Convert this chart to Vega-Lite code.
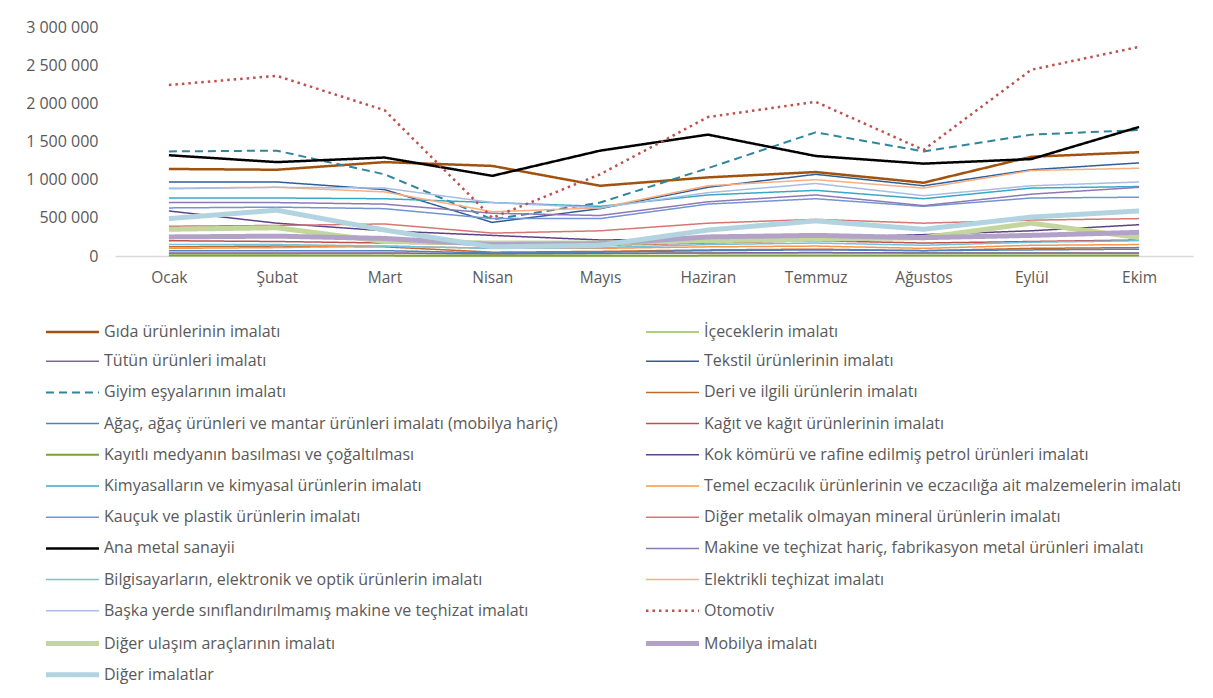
{
  "$schema": "https://vega.github.io/schema/vega-lite/v6.json",
  "width": 1078,
  "height": 229,
  "autosize": {"type": "none"},
  "padding": {"left": 115, "top": 27, "right": 20, "bottom": 442},
  "background": "#ffffff",
  "config": {
    "view": {"stroke": null},
    "font": "Open Sans",
    "axis": {"labelFont": "Open Sans", "labelColor": "#595959", "labelFontSize": 15.5, "grid": false, "ticks": false, "title": null},
    "legend": {"labelFont": "Open Sans", "labelColor": "#595959", "labelFontSize": 16}
  },
  "data": {"values": [
    {"seri":"Gıda ürünlerinin imalatı","ay":"Ocak","deger":1140000},{"seri":"Gıda ürünlerinin imalatı","ay":"Şubat","deger":1130000},{"seri":"Gıda ürünlerinin imalatı","ay":"Mart","deger":1230000},{"seri":"Gıda ürünlerinin imalatı","ay":"Nisan","deger":1180000},{"seri":"Gıda ürünlerinin imalatı","ay":"Mayıs","deger":920000},{"seri":"Gıda ürünlerinin imalatı","ay":"Haziran","deger":1030000},{"seri":"Gıda ürünlerinin imalatı","ay":"Temmuz","deger":1100000},{"seri":"Gıda ürünlerinin imalatı","ay":"Ağustos","deger":960000},{"seri":"Gıda ürünlerinin imalatı","ay":"Eylül","deger":1300000},{"seri":"Gıda ürünlerinin imalatı","ay":"Ekim","deger":1360000},
    {"seri":"İçeceklerin imalatı","ay":"Ocak","deger":30000},{"seri":"İçeceklerin imalatı","ay":"Şubat","deger":30000},{"seri":"İçeceklerin imalatı","ay":"Mart","deger":35000},{"seri":"İçeceklerin imalatı","ay":"Nisan","deger":25000},{"seri":"İçeceklerin imalatı","ay":"Mayıs","deger":30000},{"seri":"İçeceklerin imalatı","ay":"Haziran","deger":40000},{"seri":"İçeceklerin imalatı","ay":"Temmuz","deger":40000},{"seri":"İçeceklerin imalatı","ay":"Ağustos","deger":40000},{"seri":"İçeceklerin imalatı","ay":"Eylül","deger":40000},{"seri":"İçeceklerin imalatı","ay":"Ekim","deger":35000},
    {"seri":"Tütün ürünleri imalatı","ay":"Ocak","deger":40000},{"seri":"Tütün ürünleri imalatı","ay":"Şubat","deger":40000},{"seri":"Tütün ürünleri imalatı","ay":"Mart","deger":40000},{"seri":"Tütün ürünleri imalatı","ay":"Nisan","deger":30000},{"seri":"Tütün ürünleri imalatı","ay":"Mayıs","deger":35000},{"seri":"Tütün ürünleri imalatı","ay":"Haziran","deger":40000},{"seri":"Tütün ürünleri imalatı","ay":"Temmuz","deger":45000},{"seri":"Tütün ürünleri imalatı","ay":"Ağustos","deger":40000},{"seri":"Tütün ürünleri imalatı","ay":"Eylül","deger":40000},{"seri":"Tütün ürünleri imalatı","ay":"Ekim","deger":40000},
    {"seri":"Tekstil ürünlerinin imalatı","ay":"Ocak","deger":970000},{"seri":"Tekstil ürünlerinin imalatı","ay":"Şubat","deger":970000},{"seri":"Tekstil ürünlerinin imalatı","ay":"Mart","deger":870000},{"seri":"Tekstil ürünlerinin imalatı","ay":"Nisan","deger":440000},{"seri":"Tekstil ürünlerinin imalatı","ay":"Mayıs","deger":620000},{"seri":"Tekstil ürünlerinin imalatı","ay":"Haziran","deger":900000},{"seri":"Tekstil ürünlerinin imalatı","ay":"Temmuz","deger":1070000},{"seri":"Tekstil ürünlerinin imalatı","ay":"Ağustos","deger":920000},{"seri":"Tekstil ürünlerinin imalatı","ay":"Eylül","deger":1130000},{"seri":"Tekstil ürünlerinin imalatı","ay":"Ekim","deger":1220000},
    {"seri":"Giyim eşyalarının imalatı","ay":"Ocak","deger":1370000},{"seri":"Giyim eşyalarının imalatı","ay":"Şubat","deger":1380000},{"seri":"Giyim eşyalarının imalatı","ay":"Mart","deger":1070000},{"seri":"Giyim eşyalarının imalatı","ay":"Nisan","deger":480000},{"seri":"Giyim eşyalarının imalatı","ay":"Mayıs","deger":700000},{"seri":"Giyim eşyalarının imalatı","ay":"Haziran","deger":1150000},{"seri":"Giyim eşyalarının imalatı","ay":"Temmuz","deger":1620000},{"seri":"Giyim eşyalarının imalatı","ay":"Ağustos","deger":1370000},{"seri":"Giyim eşyalarının imalatı","ay":"Eylül","deger":1590000},{"seri":"Giyim eşyalarının imalatı","ay":"Ekim","deger":1650000},
    {"seri":"Deri ve ilgili  ürünlerin imalatı","ay":"Ocak","deger":120000},{"seri":"Deri ve ilgili  ürünlerin imalatı","ay":"Şubat","deger":130000},{"seri":"Deri ve ilgili  ürünlerin imalatı","ay":"Mart","deger":120000},{"seri":"Deri ve ilgili  ürünlerin imalatı","ay":"Nisan","deger":50000},{"seri":"Deri ve ilgili  ürünlerin imalatı","ay":"Mayıs","deger":60000},{"seri":"Deri ve ilgili  ürünlerin imalatı","ay":"Haziran","deger":80000},{"seri":"Deri ve ilgili  ürünlerin imalatı","ay":"Temmuz","deger":90000},{"seri":"Deri ve ilgili  ürünlerin imalatı","ay":"Ağustos","deger":70000},{"seri":"Deri ve ilgili  ürünlerin imalatı","ay":"Eylül","deger":100000},{"seri":"Deri ve ilgili  ürünlerin imalatı","ay":"Ekim","deger":110000},
    {"seri":"Ağaç, ağaç ürünleri ve mantar ürünleri imalatı (mobilya hariç)","ay":"Ocak","deger":70000},{"seri":"Ağaç, ağaç ürünleri ve mantar ürünleri imalatı (mobilya hariç)","ay":"Şubat","deger":70000},{"seri":"Ağaç, ağaç ürünleri ve mantar ürünleri imalatı (mobilya hariç)","ay":"Mart","deger":70000},{"seri":"Ağaç, ağaç ürünleri ve mantar ürünleri imalatı (mobilya hariç)","ay":"Nisan","deger":40000},{"seri":"Ağaç, ağaç ürünleri ve mantar ürünleri imalatı (mobilya hariç)","ay":"Mayıs","deger":50000},{"seri":"Ağaç, ağaç ürünleri ve mantar ürünleri imalatı (mobilya hariç)","ay":"Haziran","deger":70000},{"seri":"Ağaç, ağaç ürünleri ve mantar ürünleri imalatı (mobilya hariç)","ay":"Temmuz","deger":80000},{"seri":"Ağaç, ağaç ürünleri ve mantar ürünleri imalatı (mobilya hariç)","ay":"Ağustos","deger":70000},{"seri":"Ağaç, ağaç ürünleri ve mantar ürünleri imalatı (mobilya hariç)","ay":"Eylül","deger":80000},{"seri":"Ağaç, ağaç ürünleri ve mantar ürünleri imalatı (mobilya hariç)","ay":"Ekim","deger":90000},
    {"seri":"Kağıt ve kağıt ürünlerinin imalatı","ay":"Ocak","deger":200000},{"seri":"Kağıt ve kağıt ürünlerinin imalatı","ay":"Şubat","deger":190000},{"seri":"Kağıt ve kağıt ürünlerinin imalatı","ay":"Mart","deger":170000},{"seri":"Kağıt ve kağıt ürünlerinin imalatı","ay":"Nisan","deger":150000},{"seri":"Kağıt ve kağıt ürünlerinin imalatı","ay":"Mayıs","deger":140000},{"seri":"Kağıt ve kağıt ürünlerinin imalatı","ay":"Haziran","deger":170000},{"seri":"Kağıt ve kağıt ürünlerinin imalatı","ay":"Temmuz","deger":200000},{"seri":"Kağıt ve kağıt ürünlerinin imalatı","ay":"Ağustos","deger":170000},{"seri":"Kağıt ve kağıt ürünlerinin imalatı","ay":"Eylül","deger":190000},{"seri":"Kağıt ve kağıt ürünlerinin imalatı","ay":"Ekim","deger":210000},
    {"seri":"Kayıtlı medyanın basılması ve çoğaltılması","ay":"Ocak","deger":5000},{"seri":"Kayıtlı medyanın basılması ve çoğaltılması","ay":"Şubat","deger":5000},{"seri":"Kayıtlı medyanın basılması ve çoğaltılması","ay":"Mart","deger":5000},{"seri":"Kayıtlı medyanın basılması ve çoğaltılması","ay":"Nisan","deger":4000},{"seri":"Kayıtlı medyanın basılması ve çoğaltılması","ay":"Mayıs","deger":4000},{"seri":"Kayıtlı medyanın basılması ve çoğaltılması","ay":"Haziran","deger":5000},{"seri":"Kayıtlı medyanın basılması ve çoğaltılması","ay":"Temmuz","deger":5000},{"seri":"Kayıtlı medyanın basılması ve çoğaltılması","ay":"Ağustos","deger":5000},{"seri":"Kayıtlı medyanın basılması ve çoğaltılması","ay":"Eylül","deger":5000},{"seri":"Kayıtlı medyanın basılması ve çoğaltılması","ay":"Ekim","deger":5000},
    {"seri":"Kok kömürü ve rafine edilmiş petrol ürünleri imalatı","ay":"Ocak","deger":590000},{"seri":"Kok kömürü ve rafine edilmiş petrol ürünleri imalatı","ay":"Şubat","deger":430000},{"seri":"Kok kömürü ve rafine edilmiş petrol ürünleri imalatı","ay":"Mart","deger":330000},{"seri":"Kok kömürü ve rafine edilmiş petrol ürünleri imalatı","ay":"Nisan","deger":270000},{"seri":"Kok kömürü ve rafine edilmiş petrol ürünleri imalatı","ay":"Mayıs","deger":210000},{"seri":"Kok kömürü ve rafine edilmiş petrol ürünleri imalatı","ay":"Haziran","deger":220000},{"seri":"Kok kömürü ve rafine edilmiş petrol ürünleri imalatı","ay":"Temmuz","deger":240000},{"seri":"Kok kömürü ve rafine edilmiş petrol ürünleri imalatı","ay":"Ağustos","deger":280000},{"seri":"Kok kömürü ve rafine edilmiş petrol ürünleri imalatı","ay":"Eylül","deger":330000},{"seri":"Kok kömürü ve rafine edilmiş petrol ürünleri imalatı","ay":"Ekim","deger":410000},
    {"seri":"Kimyasalların ve kimyasal ürünlerin imalatı","ay":"Ocak","deger":760000},{"seri":"Kimyasalların ve kimyasal ürünlerin imalatı","ay":"Şubat","deger":760000},{"seri":"Kimyasalların ve kimyasal ürünlerin imalatı","ay":"Mart","deger":750000},{"seri":"Kimyasalların ve kimyasal ürünlerin imalatı","ay":"Nisan","deger":700000},{"seri":"Kimyasalların ve kimyasal ürünlerin imalatı","ay":"Mayıs","deger":650000},{"seri":"Kimyasalların ve kimyasal ürünlerin imalatı","ay":"Haziran","deger":800000},{"seri":"Kimyasalların ve kimyasal ürünlerin imalatı","ay":"Temmuz","deger":860000},{"seri":"Kimyasalların ve kimyasal ürünlerin imalatı","ay":"Ağustos","deger":750000},{"seri":"Kimyasalların ve kimyasal ürünlerin imalatı","ay":"Eylül","deger":890000},{"seri":"Kimyasalların ve kimyasal ürünlerin imalatı","ay":"Ekim","deger":910000},
    {"seri":"Temel eczacılık ürünlerinin ve eczacılığa ait malzemelerin imalatı","ay":"Ocak","deger":100000},{"seri":"Temel eczacılık ürünlerinin ve eczacılığa ait malzemelerin imalatı","ay":"Şubat","deger":110000},{"seri":"Temel eczacılık ürünlerinin ve eczacılığa ait malzemelerin imalatı","ay":"Mart","deger":130000},{"seri":"Temel eczacılık ürünlerinin ve eczacılığa ait malzemelerin imalatı","ay":"Nisan","deger":100000},{"seri":"Temel eczacılık ürünlerinin ve eczacılığa ait malzemelerin imalatı","ay":"Mayıs","deger":100000},{"seri":"Temel eczacılık ürünlerinin ve eczacılığa ait malzemelerin imalatı","ay":"Haziran","deger":120000},{"seri":"Temel eczacılık ürünlerinin ve eczacılığa ait malzemelerin imalatı","ay":"Temmuz","deger":130000},{"seri":"Temel eczacılık ürünlerinin ve eczacılığa ait malzemelerin imalatı","ay":"Ağustos","deger":100000},{"seri":"Temel eczacılık ürünlerinin ve eczacılığa ait malzemelerin imalatı","ay":"Eylül","deger":140000},{"seri":"Temel eczacılık ürünlerinin ve eczacılığa ait malzemelerin imalatı","ay":"Ekim","deger":150000},
    {"seri":"Kauçuk ve plastik ürünlerin imalatı","ay":"Ocak","deger":630000},{"seri":"Kauçuk ve plastik ürünlerin imalatı","ay":"Şubat","deger":640000},{"seri":"Kauçuk ve plastik ürünlerin imalatı","ay":"Mart","deger":620000},{"seri":"Kauçuk ve plastik ürünlerin imalatı","ay":"Nisan","deger":490000},{"seri":"Kauçuk ve plastik ürünlerin imalatı","ay":"Mayıs","deger":490000},{"seri":"Kauçuk ve plastik ürünlerin imalatı","ay":"Haziran","deger":680000},{"seri":"Kauçuk ve plastik ürünlerin imalatı","ay":"Temmuz","deger":750000},{"seri":"Kauçuk ve plastik ürünlerin imalatı","ay":"Ağustos","deger":650000},{"seri":"Kauçuk ve plastik ürünlerin imalatı","ay":"Eylül","deger":760000},{"seri":"Kauçuk ve plastik ürünlerin imalatı","ay":"Ekim","deger":770000},
    {"seri":"Diğer metalik olmayan mineral ürünlerin imalatı","ay":"Ocak","deger":390000},{"seri":"Diğer metalik olmayan mineral ürünlerin imalatı","ay":"Şubat","deger":400000},{"seri":"Diğer metalik olmayan mineral ürünlerin imalatı","ay":"Mart","deger":420000},{"seri":"Diğer metalik olmayan mineral ürünlerin imalatı","ay":"Nisan","deger":300000},{"seri":"Diğer metalik olmayan mineral ürünlerin imalatı","ay":"Mayıs","deger":330000},{"seri":"Diğer metalik olmayan mineral ürünlerin imalatı","ay":"Haziran","deger":430000},{"seri":"Diğer metalik olmayan mineral ürünlerin imalatı","ay":"Temmuz","deger":480000},{"seri":"Diğer metalik olmayan mineral ürünlerin imalatı","ay":"Ağustos","deger":430000},{"seri":"Diğer metalik olmayan mineral ürünlerin imalatı","ay":"Eylül","deger":470000},{"seri":"Diğer metalik olmayan mineral ürünlerin imalatı","ay":"Ekim","deger":490000},
    {"seri":"Ana metal sanayii","ay":"Ocak","deger":1320000},{"seri":"Ana metal sanayii","ay":"Şubat","deger":1230000},{"seri":"Ana metal sanayii","ay":"Mart","deger":1290000},{"seri":"Ana metal sanayii","ay":"Nisan","deger":1050000},{"seri":"Ana metal sanayii","ay":"Mayıs","deger":1380000},{"seri":"Ana metal sanayii","ay":"Haziran","deger":1590000},{"seri":"Ana metal sanayii","ay":"Temmuz","deger":1310000},{"seri":"Ana metal sanayii","ay":"Ağustos","deger":1210000},{"seri":"Ana metal sanayii","ay":"Eylül","deger":1270000},{"seri":"Ana metal sanayii","ay":"Ekim","deger":1690000},
    {"seri":"Makine ve teçhizat hariç, fabrikasyon metal ürünleri imalatı","ay":"Ocak","deger":700000},{"seri":"Makine ve teçhizat hariç, fabrikasyon metal ürünleri imalatı","ay":"Şubat","deger":700000},{"seri":"Makine ve teçhizat hariç, fabrikasyon metal ürünleri imalatı","ay":"Mart","deger":680000},{"seri":"Makine ve teçhizat hariç, fabrikasyon metal ürünleri imalatı","ay":"Nisan","deger":560000},{"seri":"Makine ve teçhizat hariç, fabrikasyon metal ürünleri imalatı","ay":"Mayıs","deger":530000},{"seri":"Makine ve teçhizat hariç, fabrikasyon metal ürünleri imalatı","ay":"Haziran","deger":710000},{"seri":"Makine ve teçhizat hariç, fabrikasyon metal ürünleri imalatı","ay":"Temmuz","deger":800000},{"seri":"Makine ve teçhizat hariç, fabrikasyon metal ürünleri imalatı","ay":"Ağustos","deger":660000},{"seri":"Makine ve teçhizat hariç, fabrikasyon metal ürünleri imalatı","ay":"Eylül","deger":810000},{"seri":"Makine ve teçhizat hariç, fabrikasyon metal ürünleri imalatı","ay":"Ekim","deger":900000},
    {"seri":"Bilgisayarların, elektronik ve optik ürünlerin imalatı","ay":"Ocak","deger":150000},{"seri":"Bilgisayarların, elektronik ve optik ürünlerin imalatı","ay":"Şubat","deger":150000},{"seri":"Bilgisayarların, elektronik ve optik ürünlerin imalatı","ay":"Mart","deger":130000},{"seri":"Bilgisayarların, elektronik ve optik ürünlerin imalatı","ay":"Nisan","deger":100000},{"seri":"Bilgisayarların, elektronik ve optik ürünlerin imalatı","ay":"Mayıs","deger":110000},{"seri":"Bilgisayarların, elektronik ve optik ürünlerin imalatı","ay":"Haziran","deger":150000},{"seri":"Bilgisayarların, elektronik ve optik ürünlerin imalatı","ay":"Temmuz","deger":170000},{"seri":"Bilgisayarların, elektronik ve optik ürünlerin imalatı","ay":"Ağustos","deger":140000},{"seri":"Bilgisayarların, elektronik ve optik ürünlerin imalatı","ay":"Eylül","deger":180000},{"seri":"Bilgisayarların, elektronik ve optik ürünlerin imalatı","ay":"Ekim","deger":200000},
    {"seri":"Elektrikli teçhizat imalatı","ay":"Ocak","deger":890000},{"seri":"Elektrikli teçhizat imalatı","ay":"Şubat","deger":900000},{"seri":"Elektrikli teçhizat imalatı","ay":"Mart","deger":840000},{"seri":"Elektrikli teçhizat imalatı","ay":"Nisan","deger":580000},{"seri":"Elektrikli teçhizat imalatı","ay":"Mayıs","deger":630000},{"seri":"Elektrikli teçhizat imalatı","ay":"Haziran","deger":920000},{"seri":"Elektrikli teçhizat imalatı","ay":"Temmuz","deger":1000000},{"seri":"Elektrikli teçhizat imalatı","ay":"Ağustos","deger":890000},{"seri":"Elektrikli teçhizat imalatı","ay":"Eylül","deger":1120000},{"seri":"Elektrikli teçhizat imalatı","ay":"Ekim","deger":1150000},
    {"seri":"Başka yerde sınıflandırılmamış makine ve teçhizat imalatı","ay":"Ocak","deger":880000},{"seri":"Başka yerde sınıflandırılmamış makine ve teçhizat imalatı","ay":"Şubat","deger":900000},{"seri":"Başka yerde sınıflandırılmamış makine ve teçhizat imalatı","ay":"Mart","deger":890000},{"seri":"Başka yerde sınıflandırılmamış makine ve teçhizat imalatı","ay":"Nisan","deger":700000},{"seri":"Başka yerde sınıflandırılmamış makine ve teçhizat imalatı","ay":"Mayıs","deger":630000},{"seri":"Başka yerde sınıflandırılmamış makine ve teçhizat imalatı","ay":"Haziran","deger":830000},{"seri":"Başka yerde sınıflandırılmamış makine ve teçhizat imalatı","ay":"Temmuz","deger":950000},{"seri":"Başka yerde sınıflandırılmamış makine ve teçhizat imalatı","ay":"Ağustos","deger":790000},{"seri":"Başka yerde sınıflandırılmamış makine ve teçhizat imalatı","ay":"Eylül","deger":920000},{"seri":"Başka yerde sınıflandırılmamış makine ve teçhizat imalatı","ay":"Ekim","deger":970000},
    {"seri":"Otomotiv","ay":"Ocak","deger":2240000},{"seri":"Otomotiv","ay":"Şubat","deger":2360000},{"seri":"Otomotiv","ay":"Mart","deger":1910000},{"seri":"Otomotiv","ay":"Nisan","deger":500000},{"seri":"Otomotiv","ay":"Mayıs","deger":1070000},{"seri":"Otomotiv","ay":"Haziran","deger":1820000},{"seri":"Otomotiv","ay":"Temmuz","deger":2020000},{"seri":"Otomotiv","ay":"Ağustos","deger":1390000},{"seri":"Otomotiv","ay":"Eylül","deger":2440000},{"seri":"Otomotiv","ay":"Ekim","deger":2740000},
    {"seri":"Diğer ulaşım araçlarının imalatı","ay":"Ocak","deger":350000},{"seri":"Diğer ulaşım araçlarının imalatı","ay":"Şubat","deger":370000},{"seri":"Diğer ulaşım araçlarının imalatı","ay":"Mart","deger":190000},{"seri":"Diğer ulaşım araçlarının imalatı","ay":"Nisan","deger":170000},{"seri":"Diğer ulaşım araçlarının imalatı","ay":"Mayıs","deger":170000},{"seri":"Diğer ulaşım araçlarının imalatı","ay":"Haziran","deger":200000},{"seri":"Diğer ulaşım araçlarının imalatı","ay":"Temmuz","deger":220000},{"seri":"Diğer ulaşım araçlarının imalatı","ay":"Ağustos","deger":240000},{"seri":"Diğer ulaşım araçlarının imalatı","ay":"Eylül","deger":430000},{"seri":"Diğer ulaşım araçlarının imalatı","ay":"Ekim","deger":240000},
    {"seri":"Mobilya imalatı","ay":"Ocak","deger":250000},{"seri":"Mobilya imalatı","ay":"Şubat","deger":260000},{"seri":"Mobilya imalatı","ay":"Mart","deger":230000},{"seri":"Mobilya imalatı","ay":"Nisan","deger":150000},{"seri":"Mobilya imalatı","ay":"Mayıs","deger":160000},{"seri":"Mobilya imalatı","ay":"Haziran","deger":250000},{"seri":"Mobilya imalatı","ay":"Temmuz","deger":270000},{"seri":"Mobilya imalatı","ay":"Ağustos","deger":240000},{"seri":"Mobilya imalatı","ay":"Eylül","deger":270000},{"seri":"Mobilya imalatı","ay":"Ekim","deger":310000},
    {"seri":"Diğer imalatlar","ay":"Ocak","deger":490000},{"seri":"Diğer imalatlar","ay":"Şubat","deger":600000},{"seri":"Diğer imalatlar","ay":"Mart","deger":340000},{"seri":"Diğer imalatlar","ay":"Nisan","deger":120000},{"seri":"Diğer imalatlar","ay":"Mayıs","deger":140000},{"seri":"Diğer imalatlar","ay":"Haziran","deger":340000},{"seri":"Diğer imalatlar","ay":"Temmuz","deger":460000},{"seri":"Diğer imalatlar","ay":"Ağustos","deger":350000},{"seri":"Diğer imalatlar","ay":"Eylül","deger":510000},{"seri":"Diğer imalatlar","ay":"Ekim","deger":590000}
  ]},
  "mark": {"type": "line", "strokeJoin": "round"},
  "encoding": {
    "x": {
      "field": "ay", "type": "ordinal",
      "sort": ["Ocak","Şubat","Mart","Nisan","Mayıs","Haziran","Temmuz","Ağustos","Eylül","Ekim"],
      "scale": {"type": "point", "padding": 0.5},
      "axis": {"labelAngle": 0, "labelPadding": 14, "domainColor": "#D9D9D9", "domainWidth": 1.5}
    },
    "y": {
      "field": "deger", "type": "quantitative",
      "scale": {"domain": [0, 3000000], "nice": false},
      "axis": {"values": [0,500000,1000000,1500000,2000000,2500000,3000000], "domain": false, "labelPadding": 17, "labelFontSize": 16,
               "labelExpr": "replace(format(datum.value, ','), regexp(',', 'g'), ' ')"}
    },
    "color": {
      "field": "seri", "type": "nominal",
      "scale": {
        "domain": ["Gıda ürünlerinin imalatı","İçeceklerin imalatı","Tütün ürünleri imalatı","Tekstil ürünlerinin imalatı","Giyim eşyalarının imalatı","Deri ve ilgili  ürünlerin imalatı","Ağaç, ağaç ürünleri ve mantar ürünleri imalatı (mobilya hariç)","Kağıt ve kağıt ürünlerinin imalatı","Kayıtlı medyanın basılması ve çoğaltılması","Kok kömürü ve rafine edilmiş petrol ürünleri imalatı","Kimyasalların ve kimyasal ürünlerin imalatı","Temel eczacılık ürünlerinin ve eczacılığa ait malzemelerin imalatı","Kauçuk ve plastik ürünlerin imalatı","Diğer metalik olmayan mineral ürünlerin imalatı","Ana metal sanayii","Makine ve teçhizat hariç, fabrikasyon metal ürünleri imalatı","Bilgisayarların, elektronik ve optik ürünlerin imalatı","Elektrikli teçhizat imalatı","Başka yerde sınıflandırılmamış makine ve teçhizat imalatı","Otomotiv","Diğer ulaşım araçlarının imalatı","Mobilya imalatı","Diğer imalatlar"],
        "range": ["#A0520E","#92C050","#8064A2","#2F5F98","#31859C","#C0692D","#4F81BD","#C0504D","#77A33A","#5E4288","#38A8C4","#F79646","#7295D2","#D67673","#000000","#8D7AB5","#6FC3E0","#FAAE7D","#A8BDE3","#C0504D","#C3D69B","#B3A2C7","#B2D4E0"]
      },
      "legend": {
        "title": null, "orient": "none", "legendX": -52, "legendY": 295,
        "columns": 2, "direction": "horizontal", "gridAlign": "all", "symbolType": "M-4,0H4", "symbolSize": 176, "labelOffset": 22,
        "labelLimit": 700, "rowPadding": 10.2, "columnPadding": 53
      }
    },
    "strokeDash": {
      "field": "seri", "type": "nominal",
      "scale": {
        "domain": ["Gıda ürünlerinin imalatı","İçeceklerin imalatı","Tütün ürünleri imalatı","Tekstil ürünlerinin imalatı","Giyim eşyalarının imalatı","Deri ve ilgili  ürünlerin imalatı","Ağaç, ağaç ürünleri ve mantar ürünleri imalatı (mobilya hariç)","Kağıt ve kağıt ürünlerinin imalatı","Kayıtlı medyanın basılması ve çoğaltılması","Kok kömürü ve rafine edilmiş petrol ürünleri imalatı","Kimyasalların ve kimyasal ürünlerin imalatı","Temel eczacılık ürünlerinin ve eczacılığa ait malzemelerin imalatı","Kauçuk ve plastik ürünlerin imalatı","Diğer metalik olmayan mineral ürünlerin imalatı","Ana metal sanayii","Makine ve teçhizat hariç, fabrikasyon metal ürünleri imalatı","Bilgisayarların, elektronik ve optik ürünlerin imalatı","Elektrikli teçhizat imalatı","Başka yerde sınıflandırılmamış makine ve teçhizat imalatı","Otomotiv","Diğer ulaşım araçlarının imalatı","Mobilya imalatı","Diğer imalatlar"],
        "range": [[1,0],[1,0],[1,0],[1,0],[8,5],[1,0],[1,0],[1,0],[1,0],[1,0],[1,0],[1,0],[1,0],[1,0],[1,0],[1,0],[1,0],[1,0],[1,0],[2.5,4],[1,0],[1,0],[1,0]]
      },
      "legend": {"title": null, "orient": "none", "legendX": -52, "legendY": 295, "columns": 2, "direction": "horizontal", "gridAlign": "all", "symbolType": "M-4,0H4", "symbolSize": 176, "labelOffset": 22, "labelLimit": 700, "rowPadding": 10.2, "columnPadding": 53}
    },
    "strokeWidth": {
      "field": "seri", "type": "nominal",
      "scale": {
        "type": "ordinal",
        "domain": ["Gıda ürünlerinin imalatı","İçeceklerin imalatı","Tütün ürünleri imalatı","Tekstil ürünlerinin imalatı","Giyim eşyalarının imalatı","Deri ve ilgili  ürünlerin imalatı","Ağaç, ağaç ürünleri ve mantar ürünleri imalatı (mobilya hariç)","Kağıt ve kağıt ürünlerinin imalatı","Kayıtlı medyanın basılması ve çoğaltılması","Kok kömürü ve rafine edilmiş petrol ürünleri imalatı","Kimyasalların ve kimyasal ürünlerin imalatı","Temel eczacılık ürünlerinin ve eczacılığa ait malzemelerin imalatı","Kauçuk ve plastik ürünlerin imalatı","Diğer metalik olmayan mineral ürünlerin imalatı","Ana metal sanayii","Makine ve teçhizat hariç, fabrikasyon metal ürünleri imalatı","Bilgisayarların, elektronik ve optik ürünlerin imalatı","Elektrikli teçhizat imalatı","Başka yerde sınıflandırılmamış makine ve teçhizat imalatı","Otomotiv","Diğer ulaşım araçlarının imalatı","Mobilya imalatı","Diğer imalatlar"],
        "range": [2.5,1.5,1.5,1.5,2,1.5,1.5,1.5,2,1.5,1.5,1.5,1.5,1.5,2.5,1.5,1.5,1.5,1.5,2.5,5,5,5]
      },
      "legend": {"title": null, "orient": "none", "legendX": -52, "legendY": 295, "columns": 2, "direction": "horizontal", "gridAlign": "all", "symbolType": "M-4,0H4", "symbolSize": 176, "labelOffset": 22, "labelLimit": 700, "rowPadding": 10.2, "columnPadding": 53}
    }
  }
}
